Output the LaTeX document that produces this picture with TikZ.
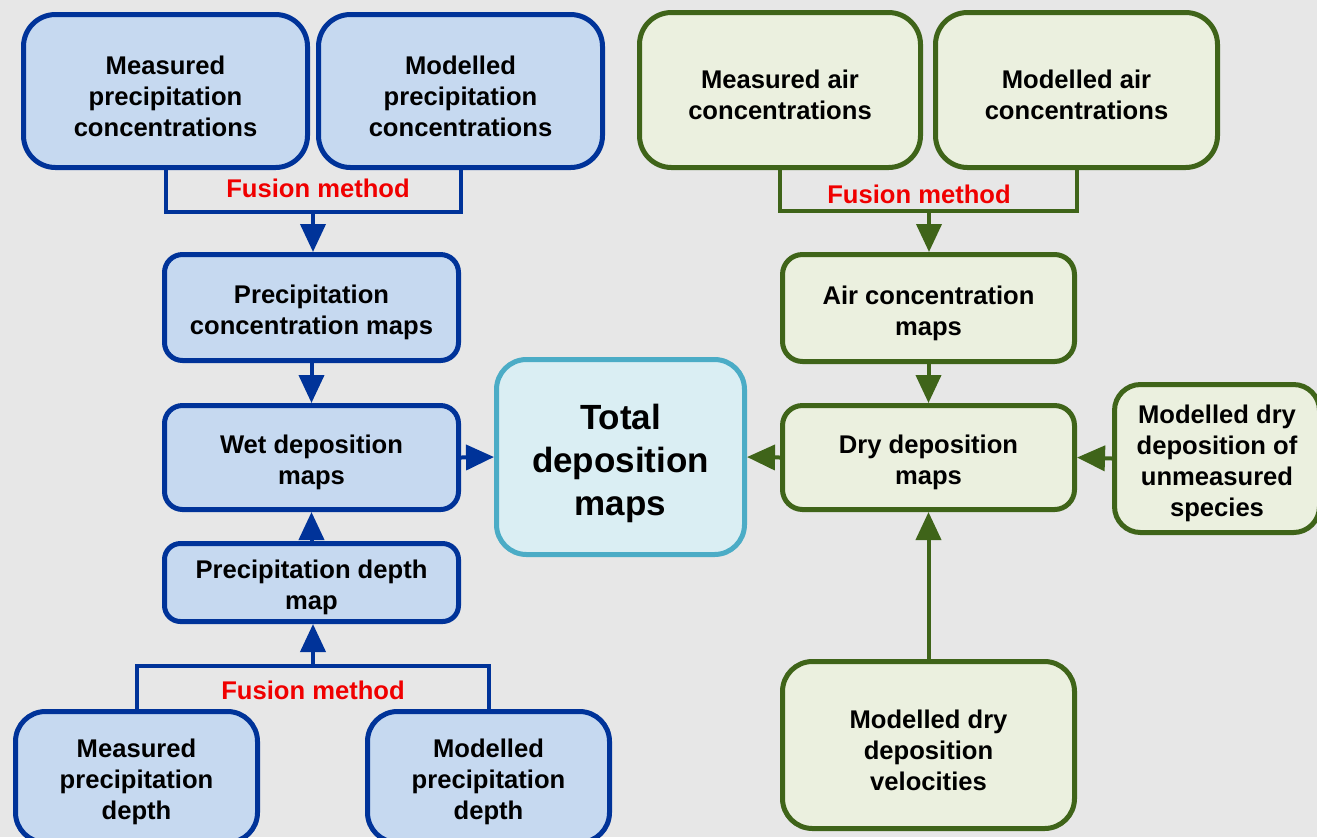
\documentclass[tikz,border=0pt]{standalone}
\usepackage{fontspec}
\setmainfont{Liberation Sans}
\usetikzlibrary{arrows.meta}
\definecolor{bgc}{HTML}{E7E7E7}
\definecolor{bdark}{HTML}{003399}
\definecolor{bfill}{HTML}{C6D9F0}
\definecolor{gdark}{HTML}{3F6419}
\definecolor{gfill}{HTML}{EBF0DF}
\definecolor{tdark}{HTML}{4BACC6}
\definecolor{tfill}{HTML}{DAEEF3}
\definecolor{fusred}{HTML}{F00000}
\newcommand\mytl{\rule{0pt}{14.5pt}}
\newcommand\mytt{\rule{0pt}{18.8pt}}
\tikzset{
  box/.style={draw, line width=2.5pt, align=center, inner sep=0pt,
    font=\fontsize{12.8}{15.5}\selectfont\bfseries},
  bluebox/.style={box, draw=bdark, fill=bfill},
  greenbox/.style={box, draw=gdark, fill=gfill},
  totalbox/.style={box, draw=tdark, fill=tfill, rounded corners=15pt,
    font=\fontsize{17.5}{21.5}\selectfont\bfseries},
  bconn/.style={draw=bdark, line width=2pt},
  gconn/.style={draw=gdark, line width=2pt},
  barr/.style={bconn, -{Triangle[width=12.5pt,length=14pt]}, bdark},
  garr/.style={gconn, -{Triangle[width=12.5pt,length=14pt]}, gdark},
  fus/.style={text=fusred, font=\fontsize{12.8}{15.5}\selectfont\bfseries, inner sep=0pt}
}
\begin{document}
\begin{tikzpicture}[x=0.5pt, y=-0.5pt]
\useasboundingbox (0,0) rectangle (1317,837);
\fill[bgc] (0,0) rectangle (1317,837);
% left (blue)
\node[bluebox, rounded corners=16pt, minimum width=142pt, minimum height=76.5pt] (mpc) at (165.5,91) {\mytl Measured\\precipitation\\concentrations};
\node[bluebox, rounded corners=16pt, minimum width=142pt, minimum height=76.5pt] (mopc) at (460.5,91) {\mytl Modelled\\precipitation\\concentrations};
\node[bluebox, rounded corners=9pt, minimum width=147pt, minimum height=53pt] (pcm) at (311.5,307.5) {\mytl Precipitation\\concentration maps};
\node[bluebox, rounded corners=9pt, minimum width=147pt, minimum height=52pt] (wdm) at (311.5,457.5) {\mytl Wet deposition\\maps};
\node[bluebox, rounded corners=8pt, minimum width=147pt, minimum height=39pt] (pdm) at (311.5,582.5) {\mytl Precipitation depth\\map};
\node[bluebox, rounded corners=15pt, minimum width=121pt, minimum height=65.5pt] (mpd) at (136.5,777) {\mytl Measured\\precipitation\\depth};
\node[bluebox, rounded corners=15pt, minimum width=121pt, minimum height=65.5pt] (mopd) at (488.5,777) {\mytl Modelled\\precipitation\\depth};
% total
\node[totalbox, minimum width=124pt, minimum height=97.5pt] (total) at (620.5,457) {\mytt Total\\deposition\\maps};
% right (green)
\node[greenbox, rounded corners=16pt, minimum width=140.5pt, minimum height=77.5pt] (mac) at (780,90) {\mytl Measured air\\concentrations};
\node[greenbox, rounded corners=16pt, minimum width=141pt, minimum height=77.5pt] (moac) at (1076.5,90) {\mytl Modelled air\\concentrations};
\node[greenbox, rounded corners=10pt, minimum width=146pt, minimum height=53.5pt] (acm) at (928.5,308) {\mytl Air concentration\\maps};
\node[greenbox, rounded corners=10pt, minimum width=146pt, minimum height=52pt] (ddm) at (928.5,457.5) {\mytl Dry deposition\\maps};
\node[greenbox, rounded corners=13pt, minimum width=102.5pt, minimum height=74pt] (mddu) at (1217,458.5) {\mytl Modelled dry\\deposition of\\unmeasured\\species};
\node[greenbox, rounded corners=15pt, minimum width=146pt, minimum height=83.5pt] (mddv) at (928.5,745) {\mytl Modelled dry\\deposition\\velocities};
% blue connectors
\coordinate (fa) at (313,212);
\draw[bconn] (mpc.south) |- (fa) -| (mopc.south);
\node[fus] (fl1) at (318,188) {Fusion method};
\draw[barr] (fa) -- (fa |- pcm.north);
\draw[barr] (pcm.south) -- (wdm.north);
\draw[barr] (pdm.north) -- (wdm.south);
\coordinate (fb) at (313,666);
\draw[bconn] (mpd.north) |- (fb) -| (mopd.north);
\node[fus] (fl2) at (313,690) {Fusion method};
\draw[barr] (fb) -- (fb |- pdm.south);
\draw[barr] (wdm.east) -- (total.west);
% green connectors
\coordinate (fc) at (929,211);
\draw[gconn] (mac.south) |- (fc) -| (moac.south);
\node[fus] (fl3) at (919,194) {Fusion method};
\draw[garr] (fc) -- (fc |- acm.north);
\draw[garr] (acm.south) -- (ddm.north);
\draw[garr] (ddm.west) -- (total.east);
\draw[garr] (mddu.west) -- (ddm.east);
\draw[garr] (mddv.north) -- (ddm.south);
\end{tikzpicture}
\end{document}
